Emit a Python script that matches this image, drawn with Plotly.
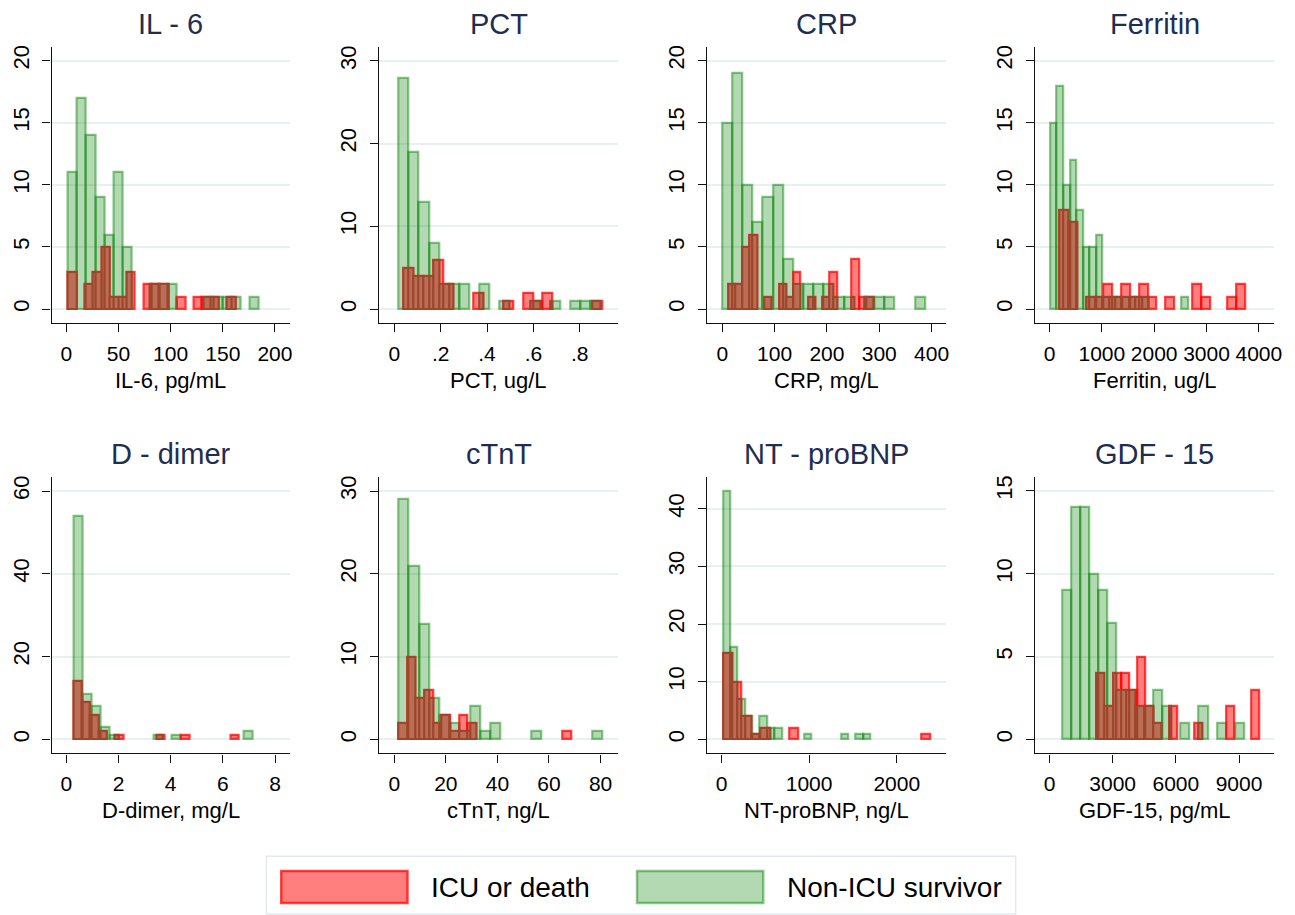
import plotly.graph_objects as go

# ---------------- data (bin start, bin width, frequency counts) ----------------
panel_titles = ["IL - 6", "PCT", "CRP", "Ferritin", "D - dimer", "cTnT", "NT - proBNP", "GDF - 15"]
x_titles = ["IL-6, pg/mL", "PCT, ug/L", "CRP, mg/L", "Ferritin, ug/L",
            "D-dimer, mg/L", "cTnT, ng/L", "NT-proBNP, ng/L", "GDF-15, pg/mL"]
group_names = ["ICU or death", "Non-ICU survivor"]

il6_survivor_bins = (1.6, 8.7)
il6_survivor_counts = [11, 17, 14, 9, 6, 11, 5, 0, 0, 2, 2, 2, 0, 0, 0, 1, 1, 1, 1, 0, 1]
il6_icu_bins = (1.6, 8.03)
il6_icu_counts = [3, 0, 2, 3, 5, 1, 1, 3, 0, 2, 2, 2, 0, 1, 0, 1, 1, 1, 0, 1]

pct_survivor_bins = (0.0186, 0.0436)
pct_survivor_counts = [28, 19, 13, 8, 3, 3, 3, 0, 3, 0, 1, 0, 0, 1, 0, 1, 0, 1, 1, 1]
pct_icu_bins = (0.04, 0.0429)
pct_icu_counts = [5, 4, 4, 6, 3, 0, 0, 2, 0, 0, 1, 0, 2, 1, 2, 0, 0, 0, 0, 1]

crp_survivor_bins = (0.0, 19.37)
crp_survivor_counts = [15, 19, 10, 7, 9, 10, 4, 2, 2, 2, 2, 1, 1, 0, 1, 1, 1, 0, 0, 1]
crp_icu_bins = (10.8, 13.9)
crp_icu_counts = [2, 2, 5, 6, 0, 1, 0, 2, 1, 3, 0, 1, 0, 1, 3, 0, 0, 4, 1, 1]

ferritin_survivor_bins = (12.7, 125.3)
ferritin_survivor_counts = [15, 18, 10, 12, 8, 5, 5, 6, 1, 1, 1, 1, 1, 1, 1, 0, 0, 0, 0, 0, 1]
ferritin_icu_bins = (190.0, 169.0)
ferritin_icu_counts = [8, 7, 0, 1, 1, 2, 1, 2, 1, 2, 1, 0, 1, 0, 0, 2, 1, 0, 0, 1, 2]

ddimer_survivor_bins = (0.28, 0.343)
ddimer_survivor_counts = [54, 11, 8, 3, 1, 0, 0, 0, 0, 1, 0, 1, 0, 0, 0, 0, 0, 0, 0, 2]
ddimer_icu_bins = (0.28, 0.317)
ddimer_icu_counts = [14, 9, 6, 2, 0, 1, 0, 0, 0, 0, 1, 0, 0, 1, 0, 0, 0, 0, 0, 1]

ctnt_survivor_bins = (1.67, 3.95)
ctnt_survivor_counts = [29, 21, 14, 5, 3, 2, 1, 4, 1, 2, 0, 0, 0, 1, 0, 0, 0, 0, 0, 1]
ctnt_icu_bins = (1.67, 3.34)
ctnt_icu_counts = [2, 10, 5, 6, 2, 3, 1, 3, 2, 0, 0, 0, 0, 0, 0, 0, 0, 0, 0, 1]

ntprobnp_survivor_bins = (15.0, 84.3)
ntprobnp_survivor_counts = [43, 16, 7, 4, 1, 4, 2, 2, 0, 0, 0, 1, 0, 0, 0, 0, 1, 0, 1, 1]
ntprobnp_icu_bins = (15.0, 107.8)
ntprobnp_icu_counts = [15, 10, 4, 1, 2, 0, 0, 2, 0, 0, 0, 0, 0, 0, 0, 0, 0, 0, 0, 0, 0, 1]

gdf15_survivor_bins = (598.0, 432.7)
gdf15_survivor_counts = [9, 14, 14, 10, 9, 7, 3, 3, 2, 2, 3, 2, 0, 1, 0, 2, 0, 1, 0, 1]
gdf15_icu_bins = (2234.0, 385.5)
gdf15_icu_counts = [4, 2, 4, 4, 3, 5, 2, 1, 0, 2, 0, 0, 1, 0, 0, 0, 2, 0, 0, 3]

x_tickvals = [[0, 50, 100, 150, 200], [0, 0.2, 0.4, 0.6, 0.8], [0, 100, 200, 300, 400],
              [0, 1000, 2000, 3000, 4000], [0, 2, 4, 6, 8], [0, 20, 40, 60, 80],
              [0, 1000, 2000], [0, 3000, 6000, 9000]]
x_ticktext = [["0", "50", "100", "150", "200"], ["0", ".2", ".4", ".6", ".8"],
              ["0", "100", "200", "300", "400"], ["0", "1000", "2000", "3000", "4000"],
              ["0", "2", "4", "6", "8"], ["0", "20", "40", "60", "80"],
              ["0", "1000", "2000"], ["0", "3000", "6000", "9000"]]
y_tickvals = [[0, 5, 10, 15, 20], [0, 10, 20, 30], [0, 5, 10, 15, 20], [0, 5, 10, 15, 20],
              [0, 20, 40, 60], [0, 10, 20, 30], [0, 10, 20, 30, 40], [0, 5, 10, 15]]

# ---------------- styling / layout ----------------
W, H = 1295, 915
x_ranges = [[-14, 214.6], [-0.0643, 0.9643], [-28.5, 427.2], [-271.5, 4285],
            [-0.56, 8.58], [-5.78, 86.7], [-162, 2560], [-675, 10651]]
y_ranges = [[-1.15, 21.1], [-1.72, 31.7], [-1.15, 21.1], [-1.15, 21.1],
            [-3.37, 63.4], [-1.69, 31.7], [-2.42, 45.5], [-0.84, 15.84]]

col_left = [52, 381.7, 711.7, 1041.7]
col_width = 240
row_top = [45, 476]
row_bottom = [322, 753]

RED_FILL = "rgba(255,0,0,0.5)"
RED_LINE = "rgba(255,0,0,0.72)"
GRN_FILL = "rgba(0,128,0,0.3)"
GRN_LINE = "rgba(0,128,0,0.45)"
MIX_FILL = "rgb(186,110,86)"
MIX_LINE = "rgb(158,70,44)"
FONT = "Liberation Sans, Arial, sans-serif"
TITLE_COLOR = "#1e2d50"

survivor_sets = [(il6_survivor_bins, il6_survivor_counts), (pct_survivor_bins, pct_survivor_counts),
                 (crp_survivor_bins, crp_survivor_counts), (ferritin_survivor_bins, ferritin_survivor_counts),
                 (ddimer_survivor_bins, ddimer_survivor_counts), (ctnt_survivor_bins, ctnt_survivor_counts),
                 (ntprobnp_survivor_bins, ntprobnp_survivor_counts), (gdf15_survivor_bins, gdf15_survivor_counts)]
icu_sets = [(il6_icu_bins, il6_icu_counts), (pct_icu_bins, pct_icu_counts),
            (crp_icu_bins, crp_icu_counts), (ferritin_icu_bins, ferritin_icu_counts),
            (ddimer_icu_bins, ddimer_icu_counts), (ctnt_icu_bins, ctnt_icu_counts),
            (ntprobnp_icu_bins, ntprobnp_icu_counts), (gdf15_icu_bins, gdf15_icu_counts)]


def bars(bins, counts):
    start, width = bins
    xs, ys = [], []
    for i, c in enumerate(counts):
        if c > 0:
            xs.append(start + (i + 0.5) * width)
            ys.append(c)
    return xs, ys, width


def overlaps(bins_a, counts_a, bins_b, counts_b):
    """Regions where both groups' bars cover the same area (drawn in the blended colour)."""
    sa, wa = bins_a
    sb, wb = bins_b
    xs, ys, ws = [], [], []
    for i, ca in enumerate(counts_a):
        if ca <= 0:
            continue
        la, ra = sa + i * wa, sa + (i + 1) * wa
        for j, cb in enumerate(counts_b):
            if cb <= 0:
                continue
            lb, rb = sb + j * wb, sb + (j + 1) * wb
            lo, hi = max(la, lb), min(ra, rb)
            if hi - lo > 1e-9:
                xs.append((lo + hi) / 2)
                ws.append(hi - lo)
                ys.append(min(ca, cb))
    return xs, ys, ws


fig = go.Figure()
annotations = []
layout_axes = {}

for k in range(8):
    r, c = divmod(k, 4)
    sfx = "" if k == 0 else str(k + 1)
    xa, ya = "x" + sfx, "y" + sfx

    xs, ys, w = bars(*survivor_sets[k])
    fig.add_trace(go.Bar(x=xs, y=ys, width=w, xaxis=xa, yaxis=ya, name=group_names[1],
                         showlegend=False,
                         marker=dict(color=GRN_FILL, line=dict(color=GRN_LINE, width=2.2))))
    xs, ys, w = bars(*icu_sets[k])
    fig.add_trace(go.Bar(x=xs, y=ys, width=w, xaxis=xa, yaxis=ya, name=group_names[0],
                         showlegend=False,
                         marker=dict(color=RED_FILL, line=dict(color=RED_LINE, width=2.2))))
    xs, ys, ws = overlaps(*icu_sets[k], *survivor_sets[k])
    fig.add_trace(go.Bar(x=xs, y=ys, width=ws, xaxis=xa, yaxis=ya, name="overlap",
                         showlegend=False, hoverinfo="skip",
                         marker=dict(color=MIX_FILL, line=dict(color=MIX_LINE, width=2.0))))

    x0 = col_left[c] / W
    x1 = (col_left[c] + col_width) / W
    y0 = 1 - row_bottom[r] / H
    y1 = 1 - row_top[r] / H

    layout_axes["xaxis" + sfx] = dict(
        domain=[x0, x1], anchor=ya, range=x_ranges[k], tickvals=x_tickvals[k],
        ticktext=x_ticktext[k], showgrid=False, zeroline=False, showline=True,
        linecolor="#111111", linewidth=1.4, ticks="outside", ticklen=8, tickwidth=1.4,
        tickcolor="#111111", tickfont=dict(family=FONT, size=21, color="#000000"),
        ticklabelstandoff=3)
    layout_axes["yaxis" + sfx] = dict(
        domain=[y0, y1], anchor=xa, range=y_ranges[k], tickvals=y_tickvals[k],
        showgrid=True, gridcolor="#e8f0f2", gridwidth=1.6, zeroline=False, showline=True,
        linecolor="#111111", linewidth=1.4, ticks="outside", ticklen=8, tickwidth=1.4,
        tickcolor="#111111", tickangle=-90,
        tickfont=dict(family=FONT, size=22, color="#000000"), ticklabelstandoff=5)

    cx = (col_left[c] + col_width / 2) / W
    title_y = [22, 453][r]
    annotations.append(dict(text=panel_titles[k], x=cx, y=1 - title_y / H, xref="paper",
                            yref="paper", xanchor="center", yanchor="middle", showarrow=False,
                            font=dict(family=FONT, size=29, color=TITLE_COLOR)))
    xt_y = [379, 810][r]
    annotations.append(dict(text=x_titles[k], x=cx, y=1 - xt_y / H, xref="paper",
                            yref="paper", xanchor="center", yanchor="middle", showarrow=False,
                            font=dict(family=FONT, size=22, color="#000000")))

# legend (drawn as a key box)
shapes = [
    dict(type="rect", xref="paper", yref="paper", x0=268 / W, x1=1022 / W,
         y0=1 - 914 / H, y1=1 - 856 / H, line=dict(color="#e3e9ee", width=1.5),
         fillcolor="rgba(0,0,0,0)", layer="below"),
    dict(type="rect", xref="paper", yref="paper", x0=283 / W, x1=410 / W,
         y0=1 - 903 / H, y1=1 - 871 / H, line=dict(color=RED_LINE, width=2.5),
         fillcolor=RED_FILL),
    dict(type="rect", xref="paper", yref="paper", x0=641 / W, x1=768 / W,
         y0=1 - 903 / H, y1=1 - 871 / H, line=dict(color=GRN_LINE, width=2.5),
         fillcolor=GRN_FILL),
]
annotations.append(dict(text=group_names[0], x=432 / W, y=1 - 887 / H, xref="paper", yref="paper",
                        xanchor="left", yanchor="middle", showarrow=False,
                        font=dict(family=FONT, size=28, color="#000000")))
annotations.append(dict(text=group_names[1], x=790 / W, y=1 - 887 / H, xref="paper", yref="paper",
                        xanchor="left", yanchor="middle", showarrow=False,
                        font=dict(family=FONT, size=28, color="#000000")))

fig.update_layout(
    width=W, height=H, margin=dict(l=0, r=0, t=0, b=0),
    paper_bgcolor="white", plot_bgcolor="white", barmode="overlay", bargap=0,
    showlegend=False, annotations=annotations, shapes=shapes, **layout_axes)

fig.write_html("out.html")
